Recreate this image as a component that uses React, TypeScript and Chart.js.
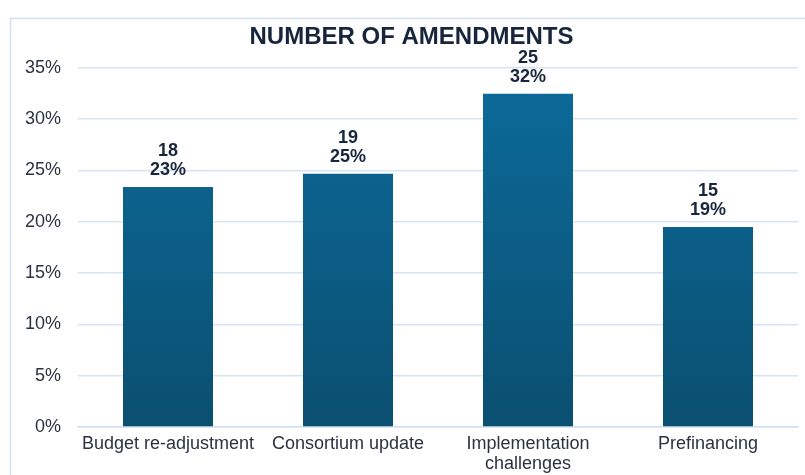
import React, { useEffect, useRef } from "react";
import { Chart, registerables } from "chart.js";

Chart.register(...registerables);

const categories: (string | string[])[] = [
  "Budget re-adjustment",
  "Consortium update",
  ["Implementation", "challenges"],
  "Prefinancing",
];
const counts = [18, 19, 25, 15];
const total = counts.reduce((a, b) => a + b, 0);
const percents = counts.map((c) => (c / total) * 100);
const yTicks = [0, 5, 10, 15, 20, 25, 30, 35];
const titleText = "NUMBER OF AMENDMENTS";

const FONT = "'Liberation Sans', Arial, sans-serif";

export default function App() {
  const ref = useRef<HTMLCanvasElement | null>(null);
  useEffect(() => {
    document.body.style.margin = "0";
    const canvas = ref.current!;
    const labelPlugin = {
      id: "barLabels",
      afterDatasetsDraw(chart: any) {
        const ctx = chart.ctx;
        const meta = chart.getDatasetMeta(0);
        ctx.save();
        ctx.fillStyle = "#17263c";
        ctx.font = `bold 18px ${FONT}`;
        ctx.textAlign = "center";
        ctx.textBaseline = "middle";
        meta.data.forEach((bar: any, i: number) => {
          ctx.fillText(String(counts[i]), bar.x, bar.y - 36);
          ctx.fillText(Math.round(percents[i]) + "%", bar.x, bar.y - 17);
        });
        ctx.restore();
      },
    };
    const borderPlugin = {
      id: "frame",
      beforeDraw(chart: any) {
        const ctx = chart.ctx;
        ctx.save();
        ctx.fillStyle = "#ffffff";
        ctx.fillRect(0, 0, chart.width, chart.height);
        ctx.strokeStyle = "#cfe0f0";
        ctx.lineWidth = 1.5;
        ctx.strokeRect(10.5, 18.5, 800, 470);
        ctx.restore();
      },
    };
    const chart = new Chart(canvas, {
      type: "bar",
      data: {
        labels: categories,
        datasets: [
          {
            data: percents,
            backgroundColor: (c: any) => {
              const area = c.chart.chartArea;
              if (!area) return "#0b6090";
              const g = c.chart.ctx.createLinearGradient(0, area.top, 0, area.bottom);
              g.addColorStop(0, "#0b6b9b");
              g.addColorStop(1, "#0b4f70");
              return g;
            },
            barPercentage: 0.5,
            categoryPercentage: 1,
          },
        ],
      },
      options: {
        animation: false,
        responsive: false,
        layout: { padding: { left: 25, right: 7, top: 20, bottom: 1 } },
        plugins: {
          legend: { display: false },
          tooltip: { enabled: false },
          title: {
            display: true,
            text: titleText,
            color: "#17263c",
            font: { family: FONT, size: 24, weight: "bold", lineHeight: 1.2 },
            padding: { top: 3, bottom: 16 },
          },
        },
        scales: {
          x: {
            grid: { display: false, drawTicks: false },
            border: { display: true, color: "#cfe0f0", width: 1.5 },
            ticks: {
              color: "#2b3340",
              font: { family: FONT, size: 18, lineHeight: 1.1 },
              padding: 7,
              maxRotation: 0,
              autoSkip: false,
            },
            afterFit: (a: any) => {
              a.height = 47;
              a.paddingLeft = 0;
              a.paddingRight = 0;
            },
          },
          y: {
            min: 0,
            max: 35,
            afterBuildTicks: (axis: any) => {
              axis.ticks = yTicks.map((v) => ({ value: v }));
            },
            grid: { color: "#d6e4f2", lineWidth: 1.5, drawTicks: false },
            border: { display: false },
            ticks: {
              color: "#2b3340",
              font: { family: FONT, size: 18 },
              padding: 17,
              callback: (v: any) => v + "%",
            },
            afterFit: (a: any) => {
              a.width = 53;
              a.paddingTop = 0;
              a.paddingBottom = 0;
            },
          },
        },
      },
      plugins: [borderPlugin, labelPlugin],
    });
    return () => chart.destroy();
  }, []);
  return <canvas ref={ref} width={805} height={475} style={{ display: "block" }} />;
}
